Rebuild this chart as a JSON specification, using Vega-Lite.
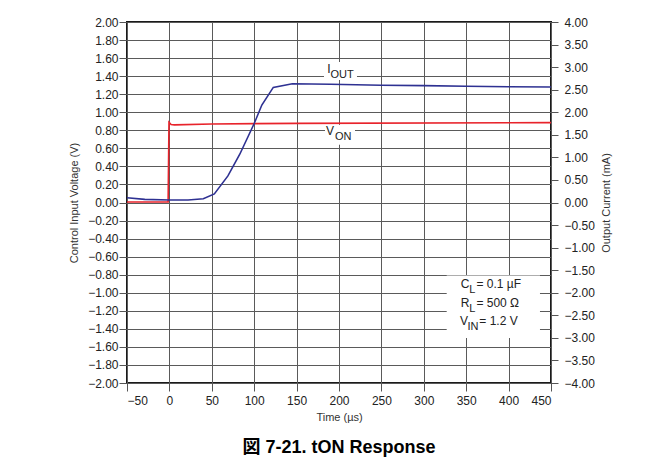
{
  "$schema": "https://vega.github.io/schema/vega-lite/v6.json",
  "width": 424,
  "height": 361,
  "autosize": {"type": "none"},
  "padding": {"left": 127, "top": 22, "right": 110, "bottom": 90},
  "background": "white",
  "config": {
    "view": {"stroke": "#1a1a1a", "strokeWidth": 2},
    "font": "Liberation Sans",
    "axis": {
      "labelFont": "Liberation Sans",
      "titleFont": "Liberation Sans",
      "labelColor": "#222",
      "titleColor": "#333",
      "titleFontWeight": "normal",
      "labelFontSize": 12,
      "titleFontSize": 11,
      "tickColor": "#555",
      "tickSize": 8,
      "domain": false,
      "gridColor": "#5a5a5a",
      "gridWidth": 1,
      "gridOpacity": 1
    }
  },
  "title": {
    "text": "図 7-21. tON Response",
    "orient": "bottom",
    "anchor": "middle",
    "font": "Liberation Sans, Noto Sans CJK JP",
    "fontSize": 18,
    "fontWeight": "bold",
    "color": "#000",
    "offset": 17
  },
  "datasets": {
    "von": [
      {"t": -50, "v": 0.005},
      {"t": -1.5, "v": 0.005},
      {"t": -0.5, "v": 0.89},
      {"t": 2, "v": 0.865},
      {"t": 6, "v": 0.86},
      {"t": 50, "v": 0.87},
      {"t": 150, "v": 0.877},
      {"t": 450, "v": 0.885}
    ],
    "iout": [
      {"t": -50, "i": 0.106},
      {"t": -29, "i": 0.07},
      {"t": 0, "i": 0.056},
      {"t": 22, "i": 0.056},
      {"t": 40, "i": 0.084},
      {"t": 53, "i": 0.19},
      {"t": 69, "i": 0.59},
      {"t": 83, "i": 1.07},
      {"t": 100, "i": 1.75},
      {"t": 109, "i": 2.16},
      {"t": 122.5, "i": 2.55},
      {"t": 145, "i": 2.63},
      {"t": 190, "i": 2.62},
      {"t": 250, "i": 2.6},
      {"t": 300, "i": 2.59},
      {"t": 350, "i": 2.575},
      {"t": 400, "i": 2.565},
      {"t": 450, "i": 2.56}
    ],
    "boxes": [
      {"x1": 182.3, "x2": 221.2, "y1": 1.557, "y2": 1.357},
      {"x1": 183.5, "x2": 218.9, "y1": 0.86, "y2": 0.64},
      {"x1": 327, "x2": 437, "y1": -0.81, "y2": -1.5}
    ],
    "labels": [
      {"x": 186.2, "y": 1.432, "s": "I"},
      {"x": 184.7, "y": 0.748, "s": "V"},
      {"x": 343.5, "y": -0.951, "s": "C"},
      {"x": 362, "y": -0.951, "s": "= 0.1 µF"},
      {"x": 343.5, "y": -1.155, "s": "R"},
      {"x": 362, "y": -1.155, "s": "= 500 Ω"},
      {"x": 342.7, "y": -1.357, "s": "V"},
      {"x": 365.5, "y": -1.357, "s": "= 1.2 V"}
    ],
    "subs": [
      {"x": 190, "y": 1.432, "s": "OUT"},
      {"x": 195.3, "y": 0.748, "s": "ON"},
      {"x": 353.6, "y": -0.951, "s": "L"},
      {"x": 353.6, "y": -1.155, "s": "L"},
      {"x": 351.6, "y": -1.357, "s": "IN"}
    ]
  },
  "layer": [
    {
      "data": {"name": "boxes"},
      "mark": {"type": "rect", "fill": "white", "stroke": null},
      "encoding": {
        "x": {
          "field": "x1", "type": "quantitative",
          "scale": {"domain": [-50, 450], "nice": false, "zero": false},
          "axis": {"title": "Time (µs)", "orient": "bottom", "values": [-50, 0, 50, 100, 150, 200, 250, 300, 350, 400, 450], "grid": true, "labelPadding": 4, "titlePadding": 5}
        },
        "x2": {"field": "x2"},
        "y": {"field": "y1", "type": "quantitative", "scale": {"domain": [-2, 2], "nice": false, "zero": false}, "axis": null},
        "y2": {"field": "y2"}
      }
    },
    {
      "data": {"name": "von"},
      "mark": {"type": "line", "color": "#e8232b", "strokeWidth": 1.6},
      "encoding": {
        "x": {
          "field": "t", "type": "quantitative",
          "scale": {"domain": [-50, 450], "nice": false, "zero": false},
          "axis": {"title": "Time (µs)", "orient": "bottom", "values": [-50, 0, 50, 100, 150, 200, 250, 300, 350, 400, 450], "grid": true, "labelPadding": 4, "titlePadding": 5}
        },
        "y": {
          "field": "v",
          "type": "quantitative",
          "scale": {"domain": [-2, 2], "nice": false, "zero": false},
          "axis": {
            "title": "Control Input Voltage (V)",
            "orient": "left",
            "values": [-2, -1.8, -1.6, -1.4, -1.2, -1, -0.8, -0.6, -0.4, -0.2, 0, 0.2, 0.4, 0.6, 0.8, 1, 1.2, 1.4, 1.6, 1.8, 2],
            "format": ".2f",
            "grid": true,
            "labelPadding": 1,
            "titlePadding": 8
          }
        }
      }
    },
    {
      "data": {"name": "labels"},
      "mark": {"type": "text", "align": "left", "baseline": "alphabetic", "fontSize": 12, "color": "#222", "font": "Liberation Sans"},
      "encoding": {
        "x": {
          "field": "x", "type": "quantitative",
          "scale": {"domain": [-50, 450], "nice": false, "zero": false},
          "axis": {"title": "Time (µs)", "orient": "bottom", "values": [-50, 0, 50, 100, 150, 200, 250, 300, 350, 400, 450], "grid": true, "labelPadding": 4, "titlePadding": 5}
        },
        "y": {"field": "y", "type": "quantitative", "scale": {"domain": [-2, 2], "nice": false, "zero": false}, "axis": null},
        "text": {"field": "s"}
      }
    },
    {
      "data": {"name": "subs"},
      "mark": {"type": "text", "align": "left", "baseline": "alphabetic", "fontSize": 11, "dy": 5, "color": "#222", "font": "Liberation Sans"},
      "encoding": {
        "x": {
          "field": "x", "type": "quantitative",
          "scale": {"domain": [-50, 450], "nice": false, "zero": false},
          "axis": {"title": "Time (µs)", "orient": "bottom", "values": [-50, 0, 50, 100, 150, 200, 250, 300, 350, 400, 450], "grid": true, "labelPadding": 4, "titlePadding": 5}
        },
        "y": {"field": "y", "type": "quantitative", "scale": {"domain": [-2, 2], "nice": false, "zero": false}, "axis": null},
        "text": {"field": "s"}
      }
    },
    {
      "data": {"name": "iout"},
      "mark": {"type": "line", "color": "#2e3192", "strokeWidth": 1.6},
      "encoding": {
        "x": {
          "field": "t", "type": "quantitative",
          "scale": {"domain": [-50, 450], "nice": false, "zero": false},
          "axis": {"title": "Time (µs)", "orient": "bottom", "values": [-50, 0, 50, 100, 150, 200, 250, 300, 350, 400, 450], "grid": true, "labelPadding": 4, "titlePadding": 5}
        },
        "y": {
          "field": "i",
          "type": "quantitative",
          "scale": {"domain": [-4, 4], "nice": false, "zero": false},
          "axis": {
            "title": "Output Current (mA)",
            "orient": "right",
            "values": [-4, -3.5, -3, -2.5, -2, -1.5, -1, -0.5, 0, 0.5, 1, 1.5, 2, 2.5, 3, 3.5, 4],
            "format": ".2f",
            "grid": false,
            "tickSize": 7,
            "labelPadding": 6,
            "titleAngle": 270,
            "titleBaseline": "top",
            "titlePadding": 6
          }
        }
      }
    }
  ],
  "resolve": {"scale": {"y": "independent"}}
}
